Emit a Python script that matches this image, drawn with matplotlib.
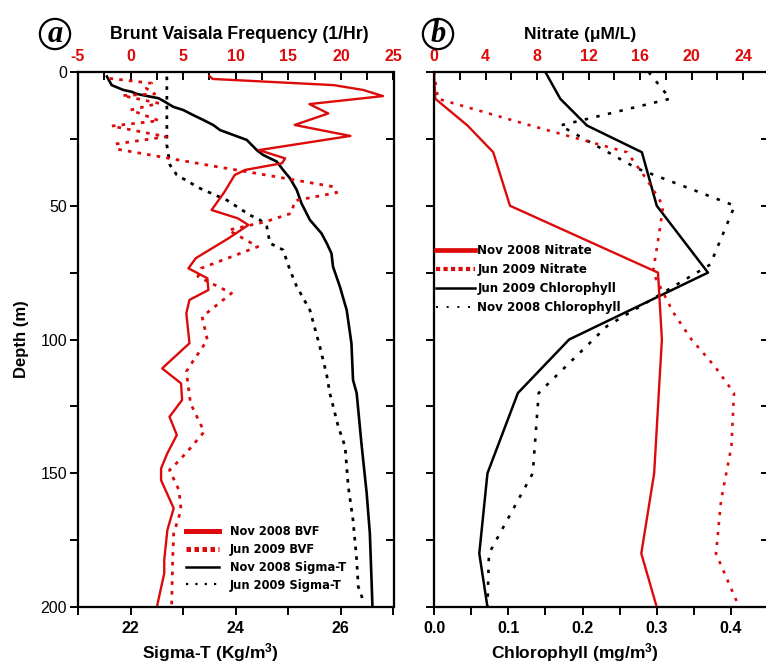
import matplotlib
matplotlib.use('Agg')
import matplotlib.pyplot as plt
from matplotlib.lines import Line2D
from matplotlib.ticker import MultipleLocator, FixedLocator, FormatStrFormatter

plt.rcParams['font.family'] = ['Liberation Sans', 'DejaVu Sans']
plt.rcParams['mathtext.fontset'] = 'custom'
plt.rcParams['mathtext.rm'] = 'Liberation Sans:bold'
plt.rcParams['mathtext.bf'] = 'Liberation Sans:bold'
plt.rcParams['mathtext.default'] = 'bf'
plt.rcParams['axes.unicode_minus'] = False

RED = '#dc0a0a'

# ---------------- Panel a data ----------------
bvf_nov_depth = [1.5, 2.6, 4.9, 6.7, 9.0, 12.0, 15.5, 19.8, 23.9, 29.2, 32.3, 34.1, 36.6, 38.5,
                 45.0, 51.6, 54.7, 57.2, 62.2, 69.6, 73.4, 77.1, 81.5, 85.2, 90.2, 101.4,
                 110.8, 116.4, 122.6, 128.9, 135.7, 142.5, 148.2, 152.6, 163.1, 171.2,
                 182.4, 187.4, 200.0]
bvf_nov = [7.5, 7.8, 19.3, 22.1, 24.0, 17.0, 18.8, 15.6, 20.9, 12.2, 14.7, 14.4, 10.9, 9.9,
           8.9, 7.7, 10.2, 11.2, 9.3, 6.2, 5.5, 7.3, 7.4, 5.6, 5.3, 5.6,
           3.0, 4.8, 4.9, 3.7, 4.4, 3.5, 2.9, 2.9, 4.1, 3.5,
           3.2, 3.2, 2.5]

bvf_jun_depth = [2.4, 4.2, 6.1, 8.2, 8.8, 11.7, 14.2, 18.2, 20.2, 24.2, 26.9, 28.9, 35.4, 37.3,
                 42.9, 45.1, 48.1, 52.8, 56.0, 59.1, 65.3, 73.4, 76.5, 82.7, 91.5, 100.2,
                 108.3, 112.0, 123.9, 134.5, 141.9, 145.7, 148.8, 156.3, 163.7, 172.4,
                 182.4, 200.0]
bvf_jun = [-2.0, 2.0, 1.5, 2.3, -0.8, 2.7, 0.0, 2.7, -1.8, 3.4, -1.4, -1.2, 8.2, 11.1,
           19.3, 19.6, 15.6, 15.3, 12.8, 9.3, 12.1, 6.7, 6.4, 9.6, 6.8, 7.3,
           5.9, 5.3, 5.7, 7.0, 5.4, 4.5, 3.7, 4.6, 4.8, 4.1,
           4.0, 3.9]

sig_nov_depth = [1.7, 4.9, 6.7, 7.4, 8.2, 9.2, 9.8, 11.1, 13.0, 14.2, 16.1, 17.9, 19.8, 21.7,
                 25.4, 29.2, 31.0, 33.5, 36.6, 39.7, 44.1, 49.1, 55.3, 60.3, 64.0, 67.8,
                 72.8, 80.2, 89.0, 101.4, 115.1, 120.1, 138.8, 157.5, 172.4, 188.7, 200.0]
sig_nov = [21.55, 21.64, 21.86, 22.02, 22.12, 22.37, 22.53, 22.65, 22.81, 23.00, 23.19, 23.38,
           23.57, 23.70, 24.21, 24.40, 24.52, 24.78, 24.90, 25.03, 25.16, 25.25, 25.41,
           25.63, 25.73, 25.82, 25.85, 25.98, 26.11, 26.20, 26.23, 26.30, 26.39, 26.49,
           26.55, 26.58, 26.60]

sig_jun_depth = [1.7, 27.3, 34.8, 38.5, 43.5, 47.9, 53.5, 55.3, 57.8, 64.0, 66.5, 74.0, 80.2,
                 89.0, 102.7, 113.3, 120.1, 132.6, 140.1, 155.0, 167.5, 182.4, 192.4, 197.4]
sig_jun = [22.69, 22.69, 22.75, 22.88, 23.32, 23.83, 24.27, 24.46, 24.59, 24.65, 24.90, 25.03,
           25.16, 25.41, 25.60, 25.73, 25.79, 25.95, 26.08, 26.14, 26.23, 26.30, 26.33, 26.42]

# ---------------- Panel b data ----------------
no3_nov_depth = [0, 10, 20, 30, 50, 75, 100, 150, 180, 200]
no3_nov = [0.0, 0.1, 2.6, 4.6, 5.9, 17.4, 17.7, 17.1, 16.1, 17.3]

no3_jun_depth = [0, 10, 20, 30, 40, 50, 60, 75, 90, 100, 110, 120, 140, 160, 180, 190, 200]
no3_jun = [0.0, 0.3, 7.5, 15.0, 16.5, 17.8, 17.5, 17.0, 18.6, 20.0, 21.8, 23.3, 23.1, 22.3,
           21.9, 22.8, 23.7]

chl_jun_depth = [0, 10, 20, 30, 50, 75, 100, 120, 150, 180, 200]
chl_jun = [0.150, 0.170, 0.206, 0.280, 0.300, 0.369, 0.182, 0.113, 0.072, 0.061, 0.072]

chl_nov_depth = [0, 10, 20, 36, 50, 72, 95, 120, 150, 180, 200]
chl_nov = [0.289, 0.318, 0.170, 0.273, 0.405, 0.372, 0.233, 0.141, 0.133, 0.074, 0.072]

depth_ticks = [0, 50, 100, 150, 200]

W, H = 766, 666
fig = plt.figure(figsize=(W / 100, H / 100), dpi=100)
fig.patch.set_facecolor('white')


def rect(l, t, r, b):
    return [l / W, 1 - b / H, (r - l) / W, (b - t) / H]


AX_T, AX_B = 72, 607
AXH = AX_B - AX_T
DOT_A = (0, (1.3, 2.2))
SPW = 1.5

# ---------------- Panel a ----------------
axA = fig.add_axes(rect(78, AX_T, 393.5, AX_B))
axA_top = axA.twiny()
axA_r = axA.twinx()

axA.set_ylim(200, 0)
axA_r.set_ylim(200, 0)
axA.set_xlim(21, 27)
axA_top.set_xlim(-5, 25)

axA.plot(sig_nov, sig_nov_depth, color='black', lw=1.9)
axA.plot(sig_jun, sig_jun_depth, color='black', lw=2.0, linestyle=DOT_A)
axA_top.plot(bvf_nov, bvf_nov_depth, color=RED, lw=1.7)
axA_top.plot(bvf_jun, bvf_jun_depth, color=RED, lw=2.0, linestyle=DOT_A)

axA.xaxis.set_major_locator(FixedLocator([22, 24, 26]))
axA.xaxis.set_minor_locator(FixedLocator([21, 23, 25, 27]))
axA.tick_params(axis='x', which='both', direction='out', length=6, width=1.4,
                labelsize=11.5, pad=4)
for lb in axA.get_xticklabels():
    lb.set_fontweight('bold')
axA.yaxis.set_major_locator(FixedLocator(depth_ticks))
axA.yaxis.set_minor_locator(MultipleLocator(25))
axA.tick_params(axis='y', which='both', direction='out', length=6, width=1.4,
                labelsize=11.5, pad=2)
axA_r.yaxis.set_major_locator(MultipleLocator(25))
axA_r.tick_params(axis='y', which='both', direction='in', length=6, width=1.4,
                  labelright=False)

axA_top.xaxis.set_major_locator(MultipleLocator(5))
axA_top.xaxis.set_minor_locator(MultipleLocator(2.5))
axA_top.tick_params(axis='x', which='both', direction='in', length=6, width=1.4,
                    labelsize=11.5, labelcolor=RED, pad=6)
for lb in axA_top.get_xticklabels():
    lb.set_fontweight('bold')

axA.set_xlabel('Sigma-T (Kg/m$^3$)', fontsize=12.5, fontweight='bold')
axA.xaxis.set_label_coords(0.42, -(641 - AX_B) / AXH)
axA.set_ylabel('Depth (m)', fontsize=12, fontweight='bold', labelpad=8)
axA_top.set_xlabel('Brunt Vaisala Frequency (1/Hr)', fontsize=12.8, fontweight='bold')
axA_top.xaxis.set_label_coords((239 - 78) / (393.5 - 78), 1 + (AX_T - 39) / AXH)

for a in (axA, axA_top, axA_r):
    for s in a.spines.values():
        s.set_linewidth(SPW)

handlesA = [Line2D([], [], color=RED, lw=3.6),
            Line2D([], [], color=RED, lw=3.6, linestyle=(0, (0.9, 0.7))),
            Line2D([], [], color='black', lw=1.8),
            Line2D([], [], color='black', lw=1.6, linestyle=(0, (1.0, 3.2)))]
labelsA = ['Nov 2008 BVF', 'Jun 2009 BVF', 'Nov 2008 Sigma-T', 'Jun 2009 Sigma-T']
legA = axA_r.legend(handlesA, labelsA, loc='upper left',
                    bbox_to_anchor=(186 / W, 1 - 525 / H), bbox_transform=fig.transFigure,
                    frameon=False, borderpad=0, borderaxespad=0, handlelength=2.9,
                    handletextpad=0.9, labelspacing=0.42,
                    prop={'family': 'DejaVu Sans', 'weight': 'bold', 'size': 8.3})

# ---------------- Panel b ----------------
xr = 768.1
axB = fig.add_axes(rect(434, AX_T, xr, AX_B))
axB_top = axB.twiny()
axB_r = axB.twinx()
axB.set_ylim(200, 0)
axB_r.set_ylim(200, 0)
chl_max = (xr - 434) / 742.5
axB.set_xlim(0, chl_max)
axB_top.set_xlim(0, chl_max * 742.5 / 12.875)

axB_top.plot(no3_nov, no3_nov_depth, color=RED, lw=1.7)
axB_top.plot(no3_jun, no3_jun_depth, color=RED, lw=1.9, linestyle=(0, (1.2, 2.6)))
axB.plot(chl_jun, chl_jun_depth, color='black', lw=1.8)
axB.plot(chl_nov, chl_nov_depth, color='black', lw=1.9, linestyle=(0, (1.3, 3.2)))

axB.xaxis.set_major_locator(MultipleLocator(0.1))
axB.xaxis.set_minor_locator(MultipleLocator(0.05))
axB.xaxis.set_major_formatter(FormatStrFormatter('%.1f'))
axB.tick_params(axis='x', which='both', direction='out', length=6, width=1.4,
                labelsize=11.5, pad=4)
for lb in axB.get_xticklabels():
    lb.set_fontweight('bold')
axB.yaxis.set_major_locator(FixedLocator(depth_ticks))
axB.yaxis.set_minor_locator(MultipleLocator(25))
axB.tick_params(axis='y', which='both', direction='out', length=6, width=1.4,
                labelleft=False)
axB_r.yaxis.set_major_locator(MultipleLocator(25))
axB_r.tick_params(axis='y', which='both', direction='in', length=5, width=1.4,
                  labelright=False)

axB_top.xaxis.set_major_locator(MultipleLocator(4))
axB_top.xaxis.set_minor_locator(MultipleLocator(2))
axB_top.tick_params(axis='x', which='both', direction='in', length=6, width=1.4,
                    labelsize=11.5, labelcolor=RED, pad=6)
for lb in axB_top.get_xticklabels():
    lb.set_fontweight('bold')

axB.set_xlabel('Chlorophyll (mg/m$^3$)', fontsize=12.5, fontweight='bold')
axB.xaxis.set_label_coords((575 - 434) / (xr - 434), -(641 - AX_B) / AXH)
axB_top.set_xlabel('Nitrate (\u03bcM/L)', fontsize=12.5, fontweight='bold')
axB_top.xaxis.set_label_coords((580 - 434) / (xr - 434), 1 + (AX_T - 39) / AXH)

for a in (axB, axB_top, axB_r):
    for s in a.spines.values():
        s.set_linewidth(SPW)

handlesB = [Line2D([], [], color=RED, lw=3.4),
            Line2D([], [], color=RED, lw=3.0, linestyle=(0, (1.0, 0.8))),
            Line2D([], [], color='black', lw=1.8),
            Line2D([], [], color='black', lw=1.4, linestyle=(0, (1.0, 4.5)))]
labelsB = ['Nov 2008 Nitrate', 'Jun 2009 Nitrate', 'Jun 2009 Chlorophyll', 'Nov 2008 Chlorophyll']
legB = axB_r.legend(handlesB, labelsB, loc='upper left',
                    bbox_to_anchor=(436 / W, 1 - 244 / H), bbox_transform=fig.transFigure,
                    frameon=False, borderpad=0, borderaxespad=0, handlelength=3.3,
                    handletextpad=0.15, labelspacing=0.5,
                    prop={'family': 'DejaVu Sans', 'weight': 'bold', 'size': 8.6})

# ---------------- panel letters ----------------
for lx, letter in ((55, 'a'), (438, 'b')):
    fig.text(lx / W, 1 - 34 / H, letter, fontsize=22, fontstyle='italic', fontweight='bold',
             family='Liberation Serif', ha='center', va='center',
             bbox=dict(boxstyle='circle,pad=0.02', fc='white', ec='black', lw=1.6))

fig.savefig('out.png', dpi=100, facecolor='white')
